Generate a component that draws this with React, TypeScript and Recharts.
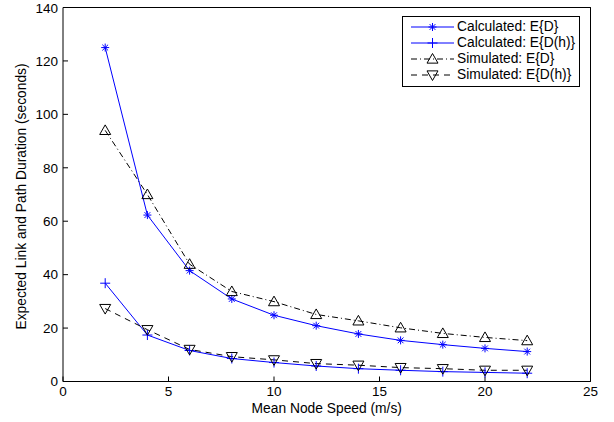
import React from "react";
import {
  LineChart,
  Line,
  XAxis,
  YAxis,
  Legend,
  ReferenceLine,
} from "recharts";

const speeds = [2, 4, 6, 8, 10, 12, 14, 16, 18, 20, 22];
const calcD = [125, 62.3, 41.5, 30.9, 24.8, 20.9, 17.8, 15.4, 13.8, 12.4, 11.2];
const calcDh = [36.8, 17.4, 11.6, 8.6, 7.1, 5.8, 4.8, 4.2, 3.7, 3.4, 3.1];
const simD = [94, 70, 43.9, 33.7, 29.9, 25.1, 22.7, 20.1, 18, 16.5, 15.3];
const simDh = [27.3, 19.4, 12, 9.3, 8.1, 6.7, 6.1, 5.2, 4.8, 4.2, 4.2];

const xTicks = [0, 5, 10, 15, 20, 25];
const yTicks = [0, 20, 40, 60, 80, 100, 120, 140];

const data = speeds.map((s, i) => ({
  speed: s,
  calcD: calcD[i],
  calcDh: calcDh[i],
  simD: simD[i],
  simDh: simDh[i],
}));

const BLUE = "#0000ff";
const FONT = "'Liberation Sans', Arial, sans-serif";
const FS = 13.5;
const LFS = 13.8;

function Star({ cx, cy }: any) {
  const r = 4;
  const d = r * 0.72;
  return (
    <g stroke={BLUE} strokeWidth={1}>
      <line x1={cx - r} y1={cy} x2={cx + r} y2={cy} />
      <line x1={cx} y1={cy - r} x2={cx} y2={cy + r} />
      <line x1={cx - d} y1={cy - d} x2={cx + d} y2={cy + d} />
      <line x1={cx - d} y1={cy + d} x2={cx + d} y2={cy - d} />
    </g>
  );
}

function Plus({ cx, cy }: any) {
  const r = 5;
  return (
    <g stroke={BLUE} strokeWidth={1}>
      <line x1={cx - r} y1={cy} x2={cx + r} y2={cy} />
      <line x1={cx} y1={cy - r} x2={cx} y2={cy + r} />
    </g>
  );
}

function TriUp({ cx, cy }: any) {
  const r = 5.5;
  return (
    <path
      d={`M${cx},${cy - r} L${cx + r},${cy + r * 0.75} L${cx - r},${cy + r * 0.75} Z`}
      fill="none"
      stroke="#000"
      strokeWidth={1}
    />
  );
}

function TriDown({ cx, cy }: any) {
  const r = 5.5;
  return (
    <path
      d={`M${cx},${cy + r} L${cx + r},${cy - r * 0.75} L${cx - r},${cy - r * 0.75} Z`}
      fill="none"
      stroke="#000"
      strokeWidth={1}
    />
  );
}

const legendRows = [
  { name: "Calculated: E{D}", color: BLUE, dash: undefined, Mark: Star },
  { name: "Calculated: E{D(h)}", color: BLUE, dash: undefined, Mark: Plus },
  { name: "Simulated: E{D}", color: "#000", dash: "6 3 1 3", Mark: TriUp },
  { name: "Simulated: E{D(h)}", color: "#000", dash: "6 5", Mark: TriDown },
];

function LegendBox() {
  return (
    <div
      style={{
        width: 176,
        height: 67,
        border: "1px solid #000",
        background: "#fff",
        fontFamily: FONT,
        fontSize: LFS,
        paddingTop: 2,
        boxSizing: "content-box",
      }}
    >
      {legendRows.map((r) => (
        <div key={r.name} style={{ display: "flex", alignItems: "center", height: 16 }}>
          <svg width={54} height={16} style={{ flex: "none" }}>
            <line
              x1={8}
              y1={8}
              x2={51}
              y2={8}
              stroke={r.color}
              strokeDasharray={r.dash}
            />
            <r.Mark cx={29.5} cy={8} />
          </svg>
          <span style={{ whiteSpace: "nowrap", lineHeight: "16px" }}>{r.name}</span>
        </div>
      ))}
    </div>
  );
}

const tickStyle = { fontSize: FS, fill: "#000", fontFamily: FONT };

export default function App() {
  return (
    <div style={{ position: "absolute", left: 0, top: 0, background: "#fff" }}>
      <LineChart
        width={614}
        height={422}
        data={data}
        margin={{ top: 0, right: 0, left: 0, bottom: 0 }}
      >
        <XAxis
          dataKey="speed"
          type="number"
          domain={[0, 25]}
          ticks={xTicks}
          height={40.5}
          tick={tickStyle}
          tickSize={-5}
          tickMargin={9.5}
          stroke="#000"
          label={{
            value: "Mean Node Speed (m/s)",
            position: "insideBottom",
            offset: 9,
            style: { fontSize: LFS, fill: "#000", fontFamily: FONT },
          }}
        />
        <XAxis
          xAxisId="top"
          dataKey="speed"
          type="number"
          orientation="top"
          domain={[0, 25]}
          ticks={xTicks}
          height={7.5}
          tick={false}
          tickSize={-5}
          stroke="#000"
        />
        <YAxis
          type="number"
          domain={[0, 140]}
          ticks={yTicks}
          width={63}
          tick={tickStyle}
          tickSize={-5}
          tickMargin={10}
          stroke="#000"
          label={{
            value: "Expected Link and Path Duration (seconds)",
            angle: -90,
            position: "center",
            dx: -10,
            dy: 2,
            style: { fontSize: LFS, fill: "#000", fontFamily: FONT, textAnchor: "middle" },
          }}
        />
        <YAxis
          yAxisId="right"
          type="number"
          orientation="right"
          domain={[0, 140]}
          ticks={yTicks}
          width={23.5}
          tick={false}
          tickSize={-5}
          stroke="#000"
        />
        <ReferenceLine y={140} stroke="#000" ifOverflow="extendDomain" />
        <ReferenceLine x={25} stroke="#000" ifOverflow="extendDomain" />
        <Legend
          layout="vertical"
          align="center"
          verticalAlign="middle"
          content={() => <LegendBox />}
          wrapperStyle={{ position: "absolute", left: 402, top: 15.5, width: 178, height: 69 }}
        />
        <Line
          dataKey="calcD"
          stroke={BLUE}
          strokeWidth={1}
          dot={(p: any) => <Star key={`a${p.index}`} cx={p.cx} cy={p.cy} />}
          isAnimationActive={false}
        />
        <Line
          dataKey="calcDh"
          stroke={BLUE}
          strokeWidth={1}
          dot={(p: any) => <Plus key={`b${p.index}`} cx={p.cx} cy={p.cy} />}
          isAnimationActive={false}
        />
        <Line
          dataKey="simD"
          stroke="#000"
          strokeWidth={1}
          strokeDasharray="6 3 1 3"
          dot={(p: any) => <TriUp key={`c${p.index}`} cx={p.cx} cy={p.cy} />}
          isAnimationActive={false}
        />
        <Line
          dataKey="simDh"
          stroke="#000"
          strokeWidth={1}
          strokeDasharray="6 5"
          dot={(p: any) => <TriDown key={`d${p.index}`} cx={p.cx} cy={p.cy} />}
          isAnimationActive={false}
        />
      </LineChart>
    </div>
  );
}
